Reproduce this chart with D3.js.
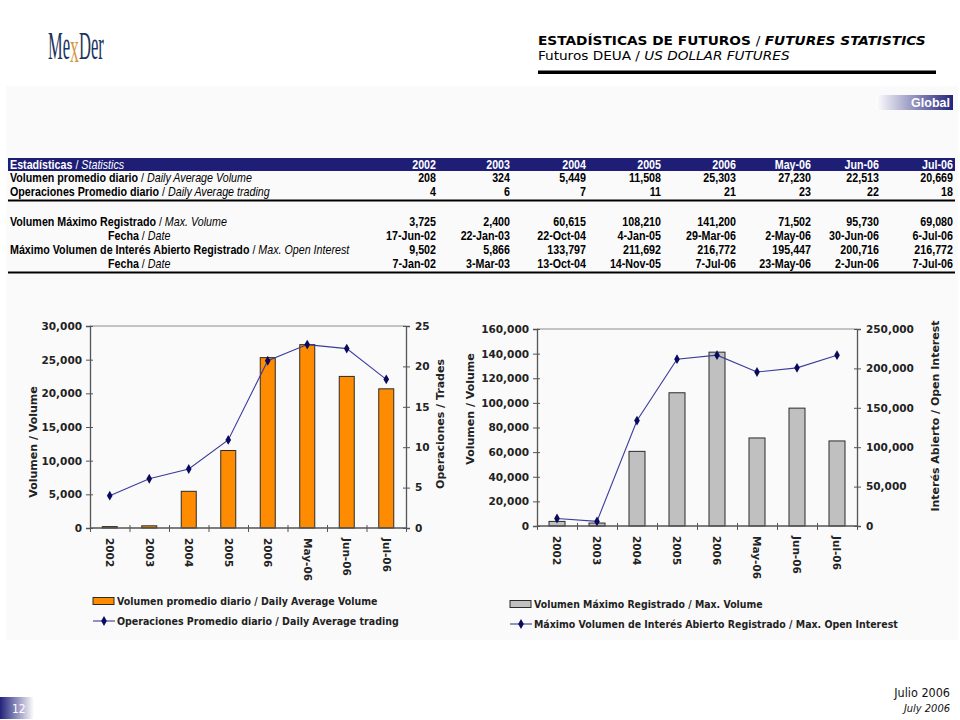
<!DOCTYPE html>
<html>
<head>
<meta charset="utf-8">
<script src="https://cdn.jsdelivr.net/npm/d3@7"></script>
<style>
  body { margin: 0; background: #fff; }
  svg { display: block; }
</style>
</head>
<body>
<div id="chart"></div>
<script>
// data
const categories = ['2002', '2003', '2004', '2005', '2006', 'May-06', 'Jun-06', 'Jul-06'];
const dailyVolume = [208, 324, 5449, 11508, 25303, 27230, 22513, 20669];
const dailyTrades = [4.0, 6.1, 7.3, 10.9, 20.7, 22.7, 22.2, 18.4];
const maxVolume = [3725, 2400, 60615, 108210, 141200, 71502, 95730, 69080];
const maxVolumeDate = ['17-Jun-02', '22-Jan-03', '22-Oct-04', '4-Jan-05', '29-Mar-06', '2-May-06', '30-Jun-06', '6-Jul-06'];
const maxOpenInterest = [9502, 5866, 133797, 211692, 216772, 195447, 200716, 216772];
const maxOpenInterestDate = ['7-Jan-02', '3-Mar-03', '13-Oct-04', '14-Nov-05', '7-Jul-06', '23-May-06', '2-Jun-06', '7-Jul-06'];

// axis ticks
const volumeTicks = [0, 5000, 10000, 15000, 20000, 25000, 30000];
const tradesTicks = [0, 5, 10, 15, 20, 25];
const maxVolumeTicks = [0, 20000, 40000, 60000, 80000, 100000, 120000, 140000, 160000];
const openInterestTicks = [0, 50000, 100000, 150000, 200000, 250000];

const fmt = d3.format(',.0f');
const chartFont = 'DejaVu Sans, Verdana, sans-serif';
const tableFont = 'Liberation Sans, Arial, sans-serif';
const headFont = 'DejaVu Sans Condensed, Tahoma, sans-serif';

const svg = d3.select('#chart').append('svg')
  .attr('width', 960)
  .attr('height', 720);

const defs = svg.append('defs');
const grad = defs.append('linearGradient').attr('id', 'navyFade');
grad.append('stop').attr('offset', '0%').attr('stop-color', '#ffffff');
grad.append('stop').attr('offset', '100%').attr('stop-color', '#23237c');
const grad2 = defs.append('linearGradient').attr('id', 'navyFadeL');
grad2.append('stop').attr('offset', '0%').attr('stop-color', '#23237c');
grad2.append('stop').attr('offset', '100%').attr('stop-color', '#ffffff');

// fits a text node to a width by squeezing it horizontally
function squeeze(t, x, y, width, anchor) {
  t.attr('text-anchor', anchor);
  const w = t.node().getBBox().width;
  const k = width / w;
  t.attr('transform', `translate(${x},${y}) scale(${k},1)`);
  return k;
}

// faint content panel
svg.append('rect').attr('x', 6).attr('y', 86).attr('width', 952).attr('height', 554)
  .attr('fill', '#fafafa');

// logo
const logo = svg.append('text')
  .attr('font-family', 'Liberation Serif, serif')
  .attr('font-size', 41)
  .attr('fill', '#1c3461');
logo.append('tspan').text('Me');
logo.append('tspan').attr('fill', '#d59a48').attr('font-size', 44).attr('dy', 3).text('x');
logo.append('tspan').attr('dy', -3).text('Der');
squeeze(logo, 48, 59, 56, 'start');

// page header
const h1 = svg.append('text').attr('font-family', headFont).attr('font-size', 12.5)
  .attr('font-weight', 'bold').attr('fill', '#000');
h1.append('tspan').text('ESTADÍSTICAS DE FUTUROS ');
h1.append('tspan').attr('font-weight', 'normal').text('/ ');
h1.append('tspan').attr('font-style', 'italic').text('FUTURES STATISTICS');
squeeze(h1, 538, 45, 388, 'start');

const h2 = svg.append('text').attr('font-family', headFont).attr('font-size', 12.5).attr('fill', '#000');
h2.append('tspan').text('Futuros DEUA / ');
h2.append('tspan').attr('font-style', 'italic').text('US DOLLAR FUTURES');
squeeze(h2, 538, 60, 252, 'start');

svg.append('rect').attr('x', 538).attr('y', 70.5).attr('width', 398).attr('height', 3.5).attr('fill', '#000');

// "Global" tag
svg.append('rect').attr('x', 876).attr('y', 95).attr('width', 77).attr('height', 15).attr('fill', 'url(#navyFade)');
svg.append('text').attr('x', 950).attr('y', 107).attr('text-anchor', 'end')
  .attr('font-family', tableFont).attr('font-weight', 'bold').attr('font-size', 12.5)
  .attr('fill', '#fff').text('Global');

// statistics table
const colRight = [436, 510, 586, 661, 736, 811, 879, 953];
const tableRows = [
  { b: 'Volumen promedio diario', i: 'Daily Average Volume', x: 10, y: 181.5, vals: dailyVolume.map(fmt) },
  { b: 'Operaciones Promedio diario', i: 'Daily Average trading', x: 10, y: 195.5, vals: dailyTrades.map(fmt) },
  { b: 'Volumen Máximo Registrado', i: 'Max. Volume', x: 10, y: 225.5, vals: maxVolume.map(fmt) },
  { b: 'Fecha', i: 'Date', x: 108, y: 239.5, vals: maxVolumeDate },
  { b: 'Máximo Volumen de Interés Abierto Registrado', i: 'Max. Open Interest', x: 10, y: 253.5, vals: maxOpenInterest.map(fmt) },
  { b: 'Fecha', i: 'Date', x: 108, y: 267.5, vals: maxOpenInterestDate }
];

svg.append('rect').attr('x', 8).attr('y', 158).attr('width', 947).attr('height', 13).attr('fill', '#1e1e76');

const tableSize = 12.5;

function rowLabel(b, i, color) {
  const t = svg.append('text').attr('font-family', tableFont).attr('font-size', tableSize).attr('fill', color);
  t.append('tspan').attr('font-weight', 'bold').text(b + ' ');
  t.append('tspan').text('/ ');
  t.append('tspan').attr('font-style', 'italic').text(i);
  return t;
}

// the longest label sets the squeeze factor for the whole table
const longest = rowLabel(tableRows[4].b, tableRows[4].i, '#000');
const tk = squeeze(longest, tableRows[4].x, tableRows[4].y, 340, 'start');
longest.remove();

function place(t, x, y) {
  t.attr('transform', `translate(${x},${y}) scale(${tk},1)`);
}

place(rowLabel('Estadísticas', 'Statistics', '#fff'), 10, 168.5);
categories.forEach((c, j) => {
  const t = svg.append('text').attr('font-family', tableFont).attr('font-size', tableSize)
    .attr('font-weight', 'bold').attr('fill', '#fff').attr('text-anchor', 'end').text(c);
  place(t, colRight[j], 168.5);
});

tableRows.forEach(r => {
  place(rowLabel(r.b, r.i, '#000'), r.x, r.y);
  r.vals.forEach((v, j) => {
    const t = svg.append('text').attr('font-family', tableFont).attr('font-size', tableSize)
      .attr('font-weight', 'bold').attr('fill', '#000').attr('text-anchor', 'end').text(v);
    place(t, colRight[j], r.y);
  });
});

svg.append('rect').attr('x', 8).attr('y', 199.5).attr('width', 947).attr('height', 2).attr('fill', '#000');
svg.append('rect').attr('x', 8).attr('y', 271.5).attr('width', 947).attr('height', 2).attr('fill', '#000');

// bar + line chart with two y axes
function comboChart(o) {
  const g = svg.append('g');
  const x = d3.scaleBand().domain(categories).range([o.left, o.right]);
  const yL = d3.scaleLinear().domain([0, o.leftTicks[o.leftTicks.length - 1]]).range([o.bottom, o.top]);
  const yR = d3.scaleLinear().domain([0, o.rightTicks[o.rightTicks.length - 1]]).range([o.bottom, o.top]);

  // plot frame top
  g.append('line').attr('x1', o.left).attr('x2', o.right).attr('y1', o.top).attr('y2', o.top)
    .attr('stroke', '#8c8c8c').attr('stroke-width', 1);

  g.selectAll('rect.bar').data(o.bars).join('rect')
    .attr('class', 'bar')
    .attr('x', (d, i) => x(categories[i]) + (x.bandwidth() - o.barWidth) / 2)
    .attr('y', d => yL(d))
    .attr('width', o.barWidth)
    .attr('height', d => yL(0) - yL(d))
    .attr('fill', o.barColor)
    .attr('stroke', '#2b2b2b')
    .attr('stroke-width', 1);

  const axL = g.append('g').attr('transform', `translate(${o.left},0)`)
    .call(d3.axisLeft(yL).tickValues(o.leftTicks).tickFormat(fmt).tickSize(4).tickPadding(4));
  const axR = g.append('g').attr('transform', `translate(${o.right},0)`)
    .call(d3.axisRight(yR).tickValues(o.rightTicks).tickFormat(fmt).tickSize(4).tickPadding(5));
  // cross ticks like the original
  axL.selectAll('.tick line').attr('x1', 3);
  axR.selectAll('.tick line').attr('x1', -3);

  const xb = d3.scaleLinear().domain([0, categories.length]).range([o.left, o.right]);
  const axB = g.append('g').attr('transform', `translate(0,${o.bottom})`)
    .call(d3.axisBottom(xb).tickValues(d3.range(categories.length + 1)).tickFormat('').tickSize(4));
  axB.selectAll('.tick line').attr('y1', -3);

  [axL, axR, axB].forEach(a => {
    a.select('.domain').attr('stroke', '#555').attr('stroke-width', 1.3);
    a.selectAll('.tick line').attr('stroke', '#555');
    a.selectAll('text').attr('font-family', chartFont).attr('font-weight', 'bold')
      .attr('font-size', 10.5).attr('fill', '#222');
  });
  axB.select('.domain').attr('d', `M${o.left},0H${o.right}`);

  g.selectAll('text.cat').data(categories).join('text')
    .attr('class', 'cat')
    .attr('transform', d => `translate(${x(d) + x.bandwidth() / 2},${o.bottom + 10}) rotate(90)`)
    .attr('dy', '0.35em')
    .attr('font-family', chartFont).attr('font-weight', 'bold').attr('font-size', 10.5)
    .attr('fill', '#222')
    .text(d => d);

  const line = d3.line()
    .x((d, i) => x(categories[i]) + x.bandwidth() / 2)
    .y(d => yR(d));
  g.append('path').datum(o.line).attr('d', line)
    .attr('fill', 'none').attr('stroke', '#3b3b9c').attr('stroke-width', 1.1);
  g.selectAll('path.pt').data(o.line).join('path')
    .attr('class', 'pt')
    .attr('d', d3.symbol(d3.symbolDiamond, 28))
    .attr('transform', (d, i) => `translate(${x(categories[i]) + x.bandwidth() / 2},${yR(d)})`)
    .attr('fill', '#0a0a5e');

  // axis titles
  g.append('text')
    .attr('transform', `translate(${o.leftTitleX},${o.leftTitleY}) rotate(-90)`)
    .attr('text-anchor', 'middle').attr('dy', '0.35em')
    .attr('font-family', chartFont).attr('font-weight', 'bold').attr('font-size', 11)
    .attr('fill', '#222').text(o.leftTitle);
  g.append('text')
    .attr('transform', `translate(${o.rightTitleX},${o.rightTitleY}) rotate(-90)`)
    .attr('text-anchor', 'middle').attr('dy', '0.35em')
    .attr('font-family', chartFont).attr('font-weight', 'bold').attr('font-size', 11)
    .attr('fill', '#222').text(o.rightTitle);

  // legend
  const lg = g.append('g').attr('transform', `translate(${o.legendX},${o.legendY})`);
  lg.append('rect').attr('x', 0).attr('y', -3.5).attr('width', 21).attr('height', 7)
    .attr('fill', o.barColor).attr('stroke', '#2b2b2b');
  const t1 = lg.append('text').attr('dy', '0.35em')
    .attr('font-family', chartFont).attr('font-weight', 'bold').attr('font-size', 10.5)
    .attr('fill', '#222').text(o.barLabel);
  squeeze(t1, 24, 0, o.barLabelWidth, 'start');
  lg.append('line').attr('x1', 0).attr('x2', 22).attr('y1', 20).attr('y2', 20)
    .attr('stroke', '#3b3b9c').attr('stroke-width', 1.1);
  lg.append('path').attr('d', d3.symbol(d3.symbolDiamond, 28)).attr('transform', 'translate(11,20)')
    .attr('fill', '#0a0a5e');
  const t2 = lg.append('text').attr('dy', '0.35em')
    .attr('font-family', chartFont).attr('font-weight', 'bold').attr('font-size', 10.5)
    .attr('fill', '#222').text(o.lineLabel);
  squeeze(t2, 24, 20, o.lineLabelWidth, 'start');
}

comboChart({
  left: 90, right: 406, top: 326, bottom: 528,
  bars: dailyVolume, line: dailyTrades,
  leftTicks: volumeTicks, rightTicks: tradesTicks,
  barWidth: 15, barColor: '#ff8c00',
  leftTitle: 'Volumen / Volume', leftTitleX: 33, leftTitleY: 442,
  rightTitle: 'Operaciones / Trades', rightTitleX: 440, rightTitleY: 424,
  legendX: 93, legendY: 601,
  barLabel: 'Volumen promedio diario / Daily Average Volume', barLabelWidth: 261,
  lineLabel: 'Operaciones Promedio diario / Daily Average trading', lineLabelWidth: 282
});

comboChart({
  left: 537, right: 857, top: 329, bottom: 526,
  bars: maxVolume, line: maxOpenInterest,
  leftTicks: maxVolumeTicks, rightTicks: openInterestTicks,
  barWidth: 16, barColor: '#c0c0c0',
  leftTitle: 'Volumen / Volume', leftTitleX: 470, leftTitleY: 409,
  rightTitle: 'Interés Abierto / Open Interest', rightTitleX: 935, rightTitleY: 416,
  legendX: 510, legendY: 604,
  barLabel: 'Volumen Máximo Registrado / Max. Volume', barLabelWidth: 229,
  lineLabel: 'Máximo Volumen de Interés Abierto Registrado / Max. Open Interest', lineLabelWidth: 364
});

// footer
svg.append('rect').attr('x', 0).attr('y', 697).attr('width', 34).attr('height', 22).attr('fill', 'url(#navyFadeL)');
svg.append('text').attr('x', 12).attr('y', 713).attr('font-family', headFont).attr('font-size', 12)
  .attr('fill', '#fff').text('12');
svg.append('text').attr('x', 950).attr('y', 697).attr('text-anchor', 'end')
  .attr('font-family', headFont).attr('font-size', 12.5).attr('fill', '#111').text('Julio 2006');
svg.append('text').attr('x', 950).attr('y', 712).attr('text-anchor', 'end')
  .attr('font-family', headFont).attr('font-size', 11).attr('font-style', 'italic')
  .attr('fill', '#111').text('July 2006');
</script>
</body>
</html>
